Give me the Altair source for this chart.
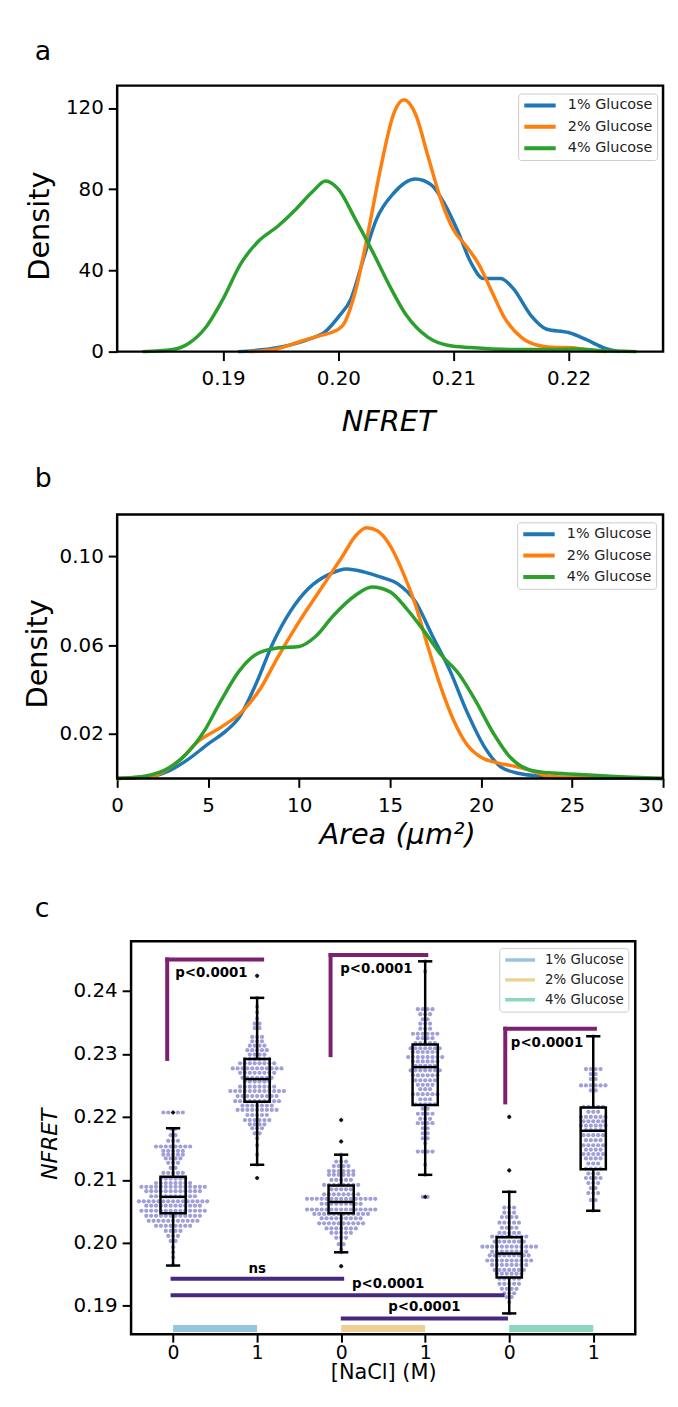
import altair as alt
import pandas as pd

FONT = "DejaVu Sans"
conditions = ["1% Glucose", "2% Glucose", "4% Glucose"]
kde_colors = ["#1f77b4", "#ff7f0e", "#2ca02c"]
bar_colors = ["#96c6de", "#f0cf93", "#8fd6bf"]

# ---------------- panel a : NFRET KDE ----------------
a_x_domain = [0.1808, 0.2282]
a_y_domain = [0, 131]
a_x_ticks = [0.19, 0.20, 0.21, 0.22]
a_y_ticks = [0, 40, 80, 120]
a1_x = [0.1913, 0.1948, 0.1974, 0.1989, 0.2000, 0.2011, 0.2022, 0.2033, 0.2048, 0.2067, 0.2081, 0.2093,
        0.2104, 0.2115, 0.2126, 0.2141, 0.2152, 0.2167, 0.2181, 0.2200, 0.2215, 0.2230, 0.2244]
a1_y = [0, 2, 6, 10, 17, 26, 46, 65, 78, 85, 82, 72, 59, 44, 36, 36, 31, 18, 11, 9.4, 6, 2, 0]
a2_x = [0.1922, 0.1944, 0.1967, 0.1985, 0.1994, 0.2004, 0.2015, 0.2026, 0.2037, 0.2048, 0.2057, 0.2067,
        0.2078, 0.2089, 0.2100, 0.2111, 0.2122, 0.2133, 0.2144, 0.2159, 0.2174, 0.2189, 0.2200, 0.2215, 0.2233]
a2_y = [0, 1, 5, 8, 9.4, 13, 30, 59, 91, 117, 124, 117, 96, 75, 60, 52, 43, 30, 17, 7, 3, 2, 2, 1, 0]
a3_x = [0.1830, 0.1856, 0.1870, 0.1885, 0.1900, 0.1915, 0.1930, 0.1948, 0.1963, 0.1978, 0.1989, 0.2000,
        0.2015, 0.2030, 0.2044, 0.2059, 0.2078, 0.2096, 0.2115, 0.2152, 0.2189, 0.2207, 0.2226, 0.2259]
a3_y = [0, 1, 4, 12, 26, 43, 54, 62, 70, 79, 84, 80, 65, 49, 33, 18, 7, 3, 2, 1, 1, 1.3, 0.5, 0]

# ---------------- panel b : Area KDE ----------------
b_x_domain = [0, 30]
b_y_domain = [0, 0.1189]
b_x_ticks = [0, 5, 10, 15, 20, 25, 30]
b_y_ticks = [0.02, 0.06, 0.10]
b1_x = [0, 1.9, 2.9, 3.8, 5.0, 6.0, 6.7, 7.6, 8.6, 9.5, 10.5, 11.7, 12.6, 13.6, 14.5, 15.4, 16.4, 17.3,
        18.3, 19.2, 20.2, 21.1, 22.1, 23.3, 24.2, 30]
b1_y = [0, 0.001, 0.0036, 0.008, 0.0155, 0.0215, 0.0274, 0.042, 0.0616, 0.075, 0.0854, 0.0921, 0.0943,
        0.0929, 0.0906, 0.0877, 0.0795, 0.0646, 0.0483, 0.0304, 0.014, 0.0051, 0.0022, 0.001, 0.0003, 0]
b2_x = [0, 1.9, 3.4, 4.5, 5.7, 6.9, 7.9, 8.8, 10.0, 11.2, 12.4, 13.1, 13.7, 14.3, 15.0, 15.7, 16.4, 17.1,
        17.8, 18.5, 19.2, 20.0, 20.9, 21.8, 22.8, 23.7, 25.4, 30]
b2_y = [0, 0.001, 0.008, 0.017, 0.023, 0.0304, 0.0408, 0.0542, 0.0706, 0.0854, 0.1003, 0.1092, 0.1129,
        0.1115, 0.1048, 0.0929, 0.078, 0.0587, 0.0408, 0.026, 0.0155, 0.0095, 0.007, 0.0055, 0.0033,
        0.001, 0.0003, 0]
b3_x = [0, 1.5, 2.9, 3.8, 4.8, 5.7, 6.7, 7.6, 8.8, 10.0, 10.9, 11.9, 13.1, 14.0, 15.0, 15.9, 16.9, 17.8,
        18.8, 19.7, 20.7, 21.6, 22.6, 23.7, 25.4, 27.1, 30]
b3_y = [0, 0.001, 0.005, 0.011, 0.0215, 0.0349, 0.0483, 0.0557, 0.0587, 0.0594, 0.0639, 0.0735, 0.0825,
        0.0862, 0.084, 0.0765, 0.066, 0.0557, 0.0468, 0.0349, 0.02, 0.0095, 0.004, 0.0025, 0.0018, 0.001, 0]

# ---------------- panel c : box + swarm ----------------
c_positions = [0, 1, 2, 3, 4, 5]
c_tick_labels = ["0", "1", "0", "1", "0", "1"]
c_y_ticks = [0.19, 0.20, 0.21, 0.22, 0.23, 0.24]
c_x_domain = [-0.5, 5.5]
c_y_domain = [0.1855, 0.2479]
box_q1 = [0.2047, 0.2224, 0.2047, 0.2219, 0.1945, 0.2117]
box_med = [0.2073, 0.2260, 0.2065, 0.2279, 0.1983, 0.2178]
box_q3 = [0.2105, 0.2292, 0.2091, 0.2315, 0.2009, 0.2215]
box_whi = [0.2182, 0.2389, 0.2140, 0.2447, 0.2081, 0.2328]
box_wlo = [0.1964, 0.2124, 0.1985, 0.2108, 0.1888, 0.2051]
outlier_pos = [0, 1, 1, 2, 2, 2, 3, 4, 4]
outlier_val = [0.2207, 0.2424, 0.2103, 0.2195, 0.2161, 0.1963, 0.2073, 0.2200, 0.2115]

g0_vals = [0.2207, 0.2181, 0.2171, 0.2162, 0.2153, 0.2146, 0.2140, 0.2134, 0.2127, 0.2119, 0.2111, 0.2102,
           0.2095, 0.2089, 0.2082, 0.2074, 0.2066, 0.2059, 0.2051, 0.2043, 0.2035, 0.2027, 0.2019, 0.2011,
           0.2003, 0.1993, 0.1985, 0.1977, 0.1965]
g0_counts = [5, 2, 2, 3, 8, 5, 5, 4, 3, 2, 5, 6, 8, 14, 12, 10, 15, 12, 14, 12, 11, 8, 4, 3, 2, 1, 1, 1, 1]
g1_vals = [0.2424, 0.2389, 0.2375, 0.2366, 0.2356, 0.2348, 0.2341, 0.2327, 0.2320, 0.2313, 0.2306, 0.2299,
           0.2292, 0.2285, 0.2277, 0.2270, 0.2262, 0.2256, 0.2248, 0.2241, 0.2233, 0.2225, 0.2218, 0.2211,
           0.2203, 0.2195, 0.2188, 0.2182, 0.2174, 0.2166, 0.2155, 0.2140, 0.2124, 0.2103]
g1_counts = [1, 1, 1, 1, 1, 2, 2, 3, 3, 4, 5, 4, 6, 8, 11, 8, 7, 6, 8, 12, 9, 10, 7, 9, 5, 6, 4, 3, 2, 1, 1,
             1, 1, 1]
g2_vals = [0.2195, 0.2161, 0.2140, 0.2129, 0.2122, 0.2114, 0.2108, 0.2100, 0.2092, 0.2085, 0.2077, 0.2070,
           0.2062, 0.2053, 0.2046, 0.2039, 0.2031, 0.2023, 0.2016, 0.2008, 0.1998, 0.1990, 0.1985, 0.1963]
g2_counts = [1, 1, 1, 3, 4, 6, 6, 5, 8, 5, 8, 15, 9, 15, 12, 9, 10, 7, 5, 3, 2, 1, 1, 1]
g3_vals = [0.2447, 0.2431, 0.2371, 0.2363, 0.2355, 0.2348, 0.2340, 0.2332, 0.2325, 0.2317, 0.2309, 0.2303,
           0.2295, 0.2288, 0.2281, 0.2274, 0.2266, 0.2258, 0.2251, 0.2244, 0.2236, 0.2228, 0.2220, 0.2213,
           0.2205, 0.2197, 0.2190, 0.2182, 0.2174, 0.2166, 0.2158, 0.2145, 0.2124, 0.2108, 0.2073]
g3_counts = [1, 1, 4, 3, 2, 3, 3, 6, 4, 5, 7, 6, 8, 6, 5, 7, 6, 5, 4, 3, 6, 3, 5, 2, 4, 3, 4, 2, 2, 2, 1, 4,
             1, 1, 2]
g4_vals = [0.2200, 0.2115, 0.2081, 0.2056, 0.2048, 0.2041, 0.2032, 0.2024, 0.2016, 0.2010, 0.2002, 0.1994,
           0.1986, 0.1980, 0.1972, 0.1965, 0.1957, 0.1951, 0.1943, 0.1935, 0.1927, 0.1920, 0.1914, 0.1906,
           0.1888]
g4_counts = [1, 1, 1, 3, 3, 4, 5, 4, 5, 8, 7, 12, 8, 9, 10, 8, 7, 6, 5, 5, 4, 3, 2, 1, 1]
g5_vals = [0.2328, 0.2276, 0.2268, 0.2260, 0.2250, 0.2242, 0.2216, 0.2208, 0.2200, 0.2193, 0.2186, 0.2179,
           0.2171, 0.2163, 0.2155, 0.2148, 0.2141, 0.2134, 0.2126, 0.2118, 0.2110, 0.2103, 0.2095, 0.2087,
           0.2079, 0.2068, 0.2051]
g5_counts = [1, 4, 2, 2, 6, 2, 5, 3, 6, 5, 6, 4, 5, 4, 5, 4, 5, 4, 3, 4, 3, 4, 3, 2, 3, 2, 1]

# significance annotations
top_xl = [-0.07, 1.874, 3.953]
top_xr = [1.06, 3.013, 5.02]
top_ylo = [0.2292, 0.2298, 0.2223]
top_yhi = [0.2450, 0.2457, 0.2340]
top_tx = [0.457, 2.42, 4.45]
top_ty = [0.2429, 0.2434, 0.2318]
top_text = ["p<0.0001", "p<0.0001", "p<0.0001"]
low_xl = [-0.03, -0.03, 1.996]
low_xr = [2.036, 3.945, 3.985]
low_y = [0.1943, 0.1917, 0.1880]
low_tx = [1.0, 2.56, 2.99]
low_ty = [0.1958, 0.1935, 0.1898]
low_text = ["ns", "p<0.0001", "p<0.0001"]
cbar_x1 = [0, 2, 4]
cbar_x2 = [1, 3, 5]
cbar_y = [0.1864, 0.1864, 0.1864]

TOP_C = "#7c2070"
LOW_C = "#46297f"
DOT_C = "#a0a0d8"
DOT_STEP = 0.058

# ---------------- layout (pixels inside the single shared view) ----------------
W = 550            # view spans the page x range 118..668
H = 1258           # view spans the page y range 86..1344
A_RANGE_Y = [268, 0]
B_RANGE_Y = [698, 432]
C_RANGE_Y = [1258, 862]
C_RANGE_X = [14, 522]
TOP_EXTENT = 68


def long_df(xcol, ycol, series):
    frames = [pd.DataFrame({xcol: xs, ycol: ys, "Condition": name}) for name, xs, ys in series]
    return pd.concat(frames, ignore_index=True)


one = pd.DataFrame({"k": [0]})

anchor = alt.Chart(one).mark_rule(opacity=0, strokeOpacity=0, strokeWidth=0).encode(
    x=alt.value(-105), x2=alt.value(-105), y=alt.value(-TOP_EXTENT), y2=alt.value(-55))


def letter(txt, x, y):
    return alt.Chart(one).mark_text(font=FONT, fontSize=27, align="left", baseline="alphabetic",
                                    color="black").encode(x=alt.value(x), y=alt.value(y), text=alt.value(txt))


def kde_legend(lx, ly):
    return alt.Legend(title=None, orient="none", legendX=lx, legendY=ly, symbolType="stroke",
                      symbolSize=1000, symbolStrokeWidth=4, clipHeight=16, rowPadding=5.5, padding=4,
                      labelFont=FONT, labelFontSize=14.5, labelColor="#222222", labelOffset=10,
                      strokeColor="#cccccc", fillColor="white", cornerRadius=3)


def frame(xd, yd, X, Y):
    df = pd.DataFrame({"fx1": [xd[0]], "fx2": [xd[1]], "fy1": [yd[0]], "fy2": [yd[1]]})
    return alt.Chart(df).mark_rect(fillOpacity=0, stroke="black", strokeWidth=2.5).encode(
        x=X("fx1"), x2="fx2", y=Y("fy1"), y2="fy2")


# ---- panel a
sc_ax = alt.Scale(domain=a_x_domain, nice=False, zero=False, range=[0, W])
sc_ay = alt.Scale(domain=a_y_domain, nice=False, zero=False, range=A_RANGE_Y)
ax_ax = alt.Axis(orient="bottom", offset=A_RANGE_Y[0] - H, values=a_x_ticks, format=".2f", title="NFRET",
                 titleFontSize=29, titleFontStyle="italic", titleX=273, titleY=79, titleAlign="center",
                 titleBaseline="alphabetic", labelPadding=8)
ax_ay = alt.Axis(orient="left", values=a_y_ticks, title="Density", titleFontSize=29, titleAngle=270,
                 titleX=-78, titleY=141, titleAlign="center", titleBaseline="middle", labelPadding=5)


def XA(f):
    return alt.X(f, type="quantitative", scale=sc_ax, axis=ax_ax)


def YA(f):
    return alt.Y(f, type="quantitative", scale=sc_ay, axis=ax_ay)


df_a = long_df("NFRET", "Density", [(conditions[0], a1_x, a1_y), (conditions[1], a2_x, a2_y),
                                    (conditions[2], a3_x, a3_y)])
lines_a = alt.Chart(df_a).mark_line(strokeWidth=3.5, interpolate="monotone").encode(
    x=XA("NFRET"), y=YA("Density"),
    color=alt.Color("Condition:N", scale=alt.Scale(domain=conditions, range=kde_colors),
                    legend=kde_legend(404, 8)))
panel_a = alt.layer(lines_a, frame(a_x_domain, a_y_domain, XA, YA))

# ---- panel b
sc_bx = alt.Scale(domain=b_x_domain, nice=False, zero=False, range=[0, W])
sc_by = alt.Scale(domain=b_y_domain, nice=False, zero=False, range=B_RANGE_Y)
ax_bx = alt.Axis(orient="bottom", offset=B_RANGE_Y[0] - H, values=b_x_ticks, title="Area (μm²)",
                 titleFontSize=29, titleFontStyle="italic", titleX=282, titleY=66, titleAlign="center",
                 titleBaseline="alphabetic", labelPadding=8,
                 labelAlign=alt.condition("datum.value == 30", alt.value("right"), alt.value("center")))
ax_by = alt.Axis(orient="left", values=b_y_ticks, format=".2f", title="Density", titleFontSize=29,
                 titleAngle=270, titleX=-80, titleY=B_RANGE_Y[1] + 140, titleAlign="center",
                 titleBaseline="middle", labelPadding=5)


def XB(f):
    return alt.X(f, type="quantitative", scale=sc_bx, axis=ax_bx)


def YB(f):
    return alt.Y(f, type="quantitative", scale=sc_by, axis=ax_by)


df_b = long_df("Area", "Density", [(conditions[0], b1_x, b1_y), (conditions[1], b2_x, b2_y),
                                   (conditions[2], b3_x, b3_y)])
lines_b = alt.Chart(df_b).mark_line(strokeWidth=3.5, interpolate="monotone").encode(
    x=XB("Area"), y=YB("Density"),
    color=alt.Color("Condition:N", scale=alt.Scale(domain=conditions, range=kde_colors),
                    legend=kde_legend(403, B_RANGE_Y[1] + 8)))
panel_b = alt.layer(lines_b, frame(b_x_domain, b_y_domain, XB, YB))

# ---- panel c
sc_cx = alt.Scale(domain=c_x_domain, nice=False, zero=False, range=C_RANGE_X)
sc_cy = alt.Scale(domain=c_y_domain, nice=False, zero=False, range=C_RANGE_Y)
label_expr = "[" + ",".join("'%s'" % t for t in c_tick_labels) + "][datum.value]"
ax_cx = alt.Axis(orient="bottom", values=c_positions, labelExpr=label_expr, title="[NaCl] (M)",
                 titleFontSize=21, titleX=268, titleY=45, titleAlign="center", titleBaseline="alphabetic",
                 labelPadding=1, labelFontSize=19, tickSize=8)
ax_cy = alt.Axis(orient="left", offset=-C_RANGE_X[0], values=c_y_ticks, format=".2f", title="NFRET",
                 titleFontSize=22, titleFontStyle="italic", titleAngle=270, titleX=-82,
                 titleY=C_RANGE_Y[1] + 204, titleAlign="center", titleBaseline="middle", labelPadding=5)


def Xc(f):
    return alt.X(f, type="quantitative", scale=sc_cx, axis=ax_cx)


def Yc(f):
    return alt.Y(f, type="quantitative", scale=sc_cy, axis=ax_cy)


swarm_groups = [(0, g0_vals, g0_counts), (1, g1_vals, g1_counts), (2, g2_vals, g2_counts),
                (3, g3_vals, g3_counts), (4, g4_vals, g4_counts), (5, g5_vals, g5_counts)]
pts = []
for pos, vals, cnts in swarm_groups:
    for v, n in zip(vals, cnts):
        for k in range(n):
            pts.append({"xs": pos + (k - (n - 1) / 2) * DOT_STEP, "v": v})
df_pts = pd.DataFrame(pts)

df_box = pd.DataFrame({"pos": c_positions, "q1": box_q1, "med": box_med, "q3": box_q3,
                       "whi": box_whi, "wlo": box_wlo})
df_box["xl"] = df_box["pos"] - 0.15
df_box["xr"] = df_box["pos"] + 0.15
df_box["cl"] = df_box["pos"] - 0.085
df_box["cr"] = df_box["pos"] + 0.085
df_out = pd.DataFrame({"pos": outlier_pos, "v": outlier_val})
df_top = pd.DataFrame({"xl": top_xl, "xr": top_xr, "ylo": top_ylo, "yhi": top_yhi, "tx": top_tx,
                       "ty": top_ty, "label": top_text})
df_low = pd.DataFrame({"xl": low_xl, "xr": low_xr, "y": low_y, "tx": low_tx, "ty": low_ty,
                       "label": low_text})
df_cbar = pd.DataFrame({"x1": cbar_x1, "x2": cbar_x2, "y": cbar_y, "Condition": conditions})

swarm = alt.Chart(df_pts).mark_circle(size=18, color=DOT_C, opacity=1).encode(x=Xc("xs"), y=Yc("v"))
boxes = alt.Chart(df_box).mark_rect(fillOpacity=0, stroke="black", strokeWidth=2.5).encode(
    x=Xc("xl"), x2="xr", y=Yc("q1"), y2="q3")
medians = alt.Chart(df_box).mark_rule(color="black", strokeWidth=2.5).encode(x=Xc("xl"), x2="xr", y=Yc("med"))
wh_hi = alt.Chart(df_box).mark_rule(color="black", strokeWidth=2.5).encode(x=Xc("pos"), y=Yc("q3"), y2="whi")
wh_lo = alt.Chart(df_box).mark_rule(color="black", strokeWidth=2.5).encode(x=Xc("pos"), y=Yc("wlo"), y2="q1")
cap_hi = alt.Chart(df_box).mark_rule(color="black", strokeWidth=2.5).encode(x=Xc("cl"), x2="cr", y=Yc("whi"))
cap_lo = alt.Chart(df_box).mark_rule(color="black", strokeWidth=2.5).encode(x=Xc("cl"), x2="cr", y=Yc("wlo"))
outl = alt.Chart(df_out).mark_point(shape="diamond", filled=True, color="#111111", size=22, opacity=1).encode(
    x=Xc("pos"), y=Yc("v"))
top_v = alt.Chart(df_top).mark_rule(color=TOP_C, strokeWidth=4, strokeCap="square").encode(
    x=Xc("xl"), y=Yc("ylo"), y2="yhi")
top_h = alt.Chart(df_top).mark_rule(color=TOP_C, strokeWidth=4, strokeCap="square").encode(
    x=Xc("xl"), x2="xr", y=Yc("yhi"))
top_t = alt.Chart(df_top).mark_text(font=FONT, fontWeight="bold", fontSize=13.5, color="black",
                                    baseline="middle").encode(x=Xc("tx"), y=Yc("ty"), text="label:N")
low_h = alt.Chart(df_low).mark_rule(color=LOW_C, strokeWidth=4).encode(x=Xc("xl"), x2="xr", y=Yc("y"))
low_t = alt.Chart(df_low).mark_text(font=FONT, fontWeight="bold", fontSize=13.5, color="black",
                                    baseline="middle").encode(x=Xc("tx"), y=Yc("ty"), text="label:N")
cbars = alt.Chart(df_cbar).mark_rule(strokeWidth=7).encode(
    x=Xc("x1"), x2="x2", y=Yc("y"),
    color=alt.Color("Condition:N", scale=alt.Scale(domain=conditions, range=bar_colors),
                    legend=alt.Legend(title=None, orient="none", legendX=385, legendY=C_RANGE_Y[1] + 7,
                                      symbolType="stroke", symbolSize=900, symbolStrokeWidth=3.5,
                                      clipHeight=16, rowPadding=4, padding=4, labelFont=FONT,
                                      labelFontSize=13.5, labelColor="#222222", labelOffset=8,
                                      strokeColor="#cccccc", fillColor="white", cornerRadius=3)))
panel_c = alt.layer(swarm, wh_hi, wh_lo, cap_hi, cap_lo, boxes, medians, outl, top_v, top_h, top_t, low_h,
                    low_t, cbars, frame(c_x_domain, c_y_domain, Xc, Yc))

letters = alt.layer(letter("a", -83, -26), letter("b", -83, B_RANGE_Y[1] - 28),
                    letter("c", -83, C_RANGE_Y[1] - 24))

chart = alt.layer(anchor, letters, panel_a, panel_b, panel_c).resolve_scale(
    x="independent", y="independent", color="independent").properties(
    width=W, height=H, background="white",
    padding={"left": 5, "top": 5, "right": 0, "bottom": 0}).configure_view(stroke=None).configure_axis(
    domain=False, grid=False, tickColor="black", tickWidth=2, tickSize=9, labelFont=FONT, labelFontSize=20,
    labelColor="black", titleFont=FONT, titleColor="black", titleFontWeight="normal", labelFlush=False,
    labelOverlap=False)

chart.save("out.html", embed_options={"renderer": "svg", "actions": False})
